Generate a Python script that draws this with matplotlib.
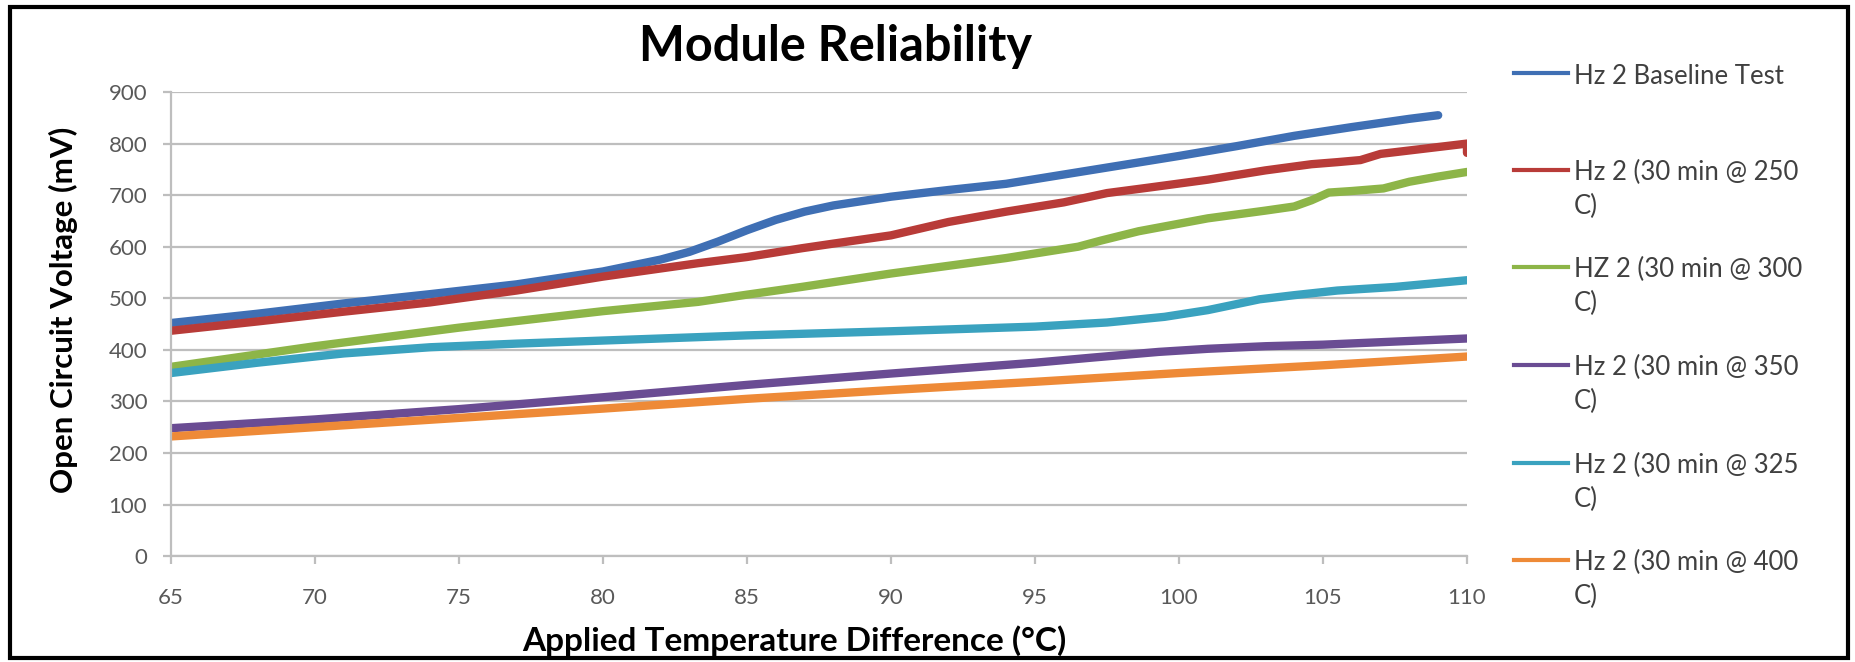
import matplotlib
matplotlib.use("Agg")
import matplotlib.pyplot as plt
from matplotlib.lines import Line2D
from matplotlib.patches import Rectangle

# series data (temperature diff in C, voltage in mV)
base_x = [65, 68, 71, 74, 77, 80, 82, 83, 84, 85, 86, 87, 88, 90, 92, 94, 96, 98, 100, 102, 104, 106, 108, 109]
base_y = [452, 470, 490, 508, 527, 552, 575, 590, 610, 632, 652, 668, 680, 697, 710, 722, 740, 758, 776, 795, 815, 832, 848, 855]

t250_x = [65, 68, 71, 74, 77, 80, 83.3, 85, 86.9, 88, 90, 92, 94, 96, 97.5, 99, 101, 103, 104.6, 105.5, 106.3, 107, 108.5, 110, 110]
t250_y = [437, 455, 474, 492, 515, 542, 568, 580, 597, 606, 622, 648, 668, 686, 704, 715, 730, 748, 760, 764, 768, 780, 790, 800, 782]

t300_x = [65, 70, 75, 80, 83.3, 85, 86.9, 90, 94, 95.7, 96.5, 97.3, 98.6, 101, 103, 104, 104.6, 105.2, 106, 107.1, 108, 109, 110]
t300_y = [367, 407, 443, 475, 493, 507, 522, 548, 578, 593, 600, 612, 630, 655, 670, 678, 690, 705, 708, 713, 726, 736, 745]

t350_x = [65, 70, 75, 80, 85, 90, 95, 97, 99.3, 101, 103, 105, 110]
t350_y = [248, 265, 285, 308, 332, 354, 375, 385, 396, 402, 407, 410, 422]

t325_x = [65, 68, 71, 74, 77, 80, 85, 90, 95, 97.5, 99.5, 101, 102.8, 104, 105.5, 107.5, 110]
t325_y = [355, 375, 393, 405, 412, 418, 428, 436, 445, 453, 464, 477, 498, 506, 515, 522, 535]

t400_x = [65, 70, 75, 80, 85, 90, 95, 100, 105, 110]
t400_y = [232, 250, 268, 286, 305, 322, 338, 355, 370, 387]

labels = ["Hz 2 Baseline Test",
          "Hz 2 (30 min @ 250\nC)",
          "HZ 2 (30 min @ 300\nC)",
          "Hz 2 (30 min @ 350\nC)",
          "Hz 2 (30 min @ 325\nC)",
          "Hz 2 (30 min @ 400\nC)"]
colors = ["#3F6FB4", "#B83B38", "#8DB548", "#6A4C93", "#3AA2BF", "#EE8A37"]

series = [(base_x, base_y), (t250_x, t250_y), (t300_x, t300_y),
          (t350_x, t350_y), (t325_x, t325_y), (t400_x, t400_y)]

plt.rcParams['font.family'] = ['Lato', 'DejaVu Sans']

fig = plt.figure(figsize=(18.56, 6.62), dpi=100)
ax = fig.add_axes([0.0921, 0.160, 0.6983, 0.701])

for (xs, ys), c in zip(series, colors):
    ax.plot(xs, ys, color=c, lw=6, solid_capstyle='round', solid_joinstyle='round')

ax.set_xlim(65, 110)
ax.set_ylim(0, 900)
ax.set_xticks(range(65, 111, 5))
ax.set_yticks(range(0, 901, 100))
ax.yaxis.grid(True, color='#BEBEBE', lw=1.6)
ax.set_axisbelow(True)
for s in ['top', 'right']:
    ax.spines[s].set_visible(False)
for s in ['left', 'bottom']:
    ax.spines[s].set_color('#BEBEBE')
    ax.spines[s].set_linewidth(1.6)
ax.tick_params(axis='both', colors='#BEBEBE', length=6, width=1.6, labelsize=16, labelcolor='#595959')
ax.tick_params(axis='y', pad=11)
ax.tick_params(axis='x', pad=17)

ax.set_ylabel("Open Circuit Voltage (mV)", fontsize=22.5, fontweight='bold')
ax.yaxis.set_label_coords(-0.072, 0.53)
ax.set_xlabel("Applied Temperature Difference (°C)", fontsize=24, fontweight='bold')
ax.xaxis.set_label_coords(0.481, -0.148)
fig.text(0.45, 0.93, "Module Reliability", fontsize=35, fontweight='bold', ha='center', va='center')

# legend drawn by hand so the line sits on the first text row like Excel does
leg_y = [0.889, 0.743, 0.597, 0.449, 0.301, 0.154]
for lab, c, y in zip(labels, colors, leg_y):
    fig.add_artist(Line2D([0.816, 0.845], [y, y], color=c, lw=3, transform=fig.transFigure))
    fig.text(0.848, y + 0.0147, lab, fontsize=18.5, color='#404040', va='top', ha='left', linespacing=1.43)

fig.add_artist(Rectangle((0.0054, 0.0066), 0.9903, 0.9834, transform=fig.transFigure,
                         fill=False, edgecolor='black', lw=3))

fig.savefig("out.png", dpi=100)
